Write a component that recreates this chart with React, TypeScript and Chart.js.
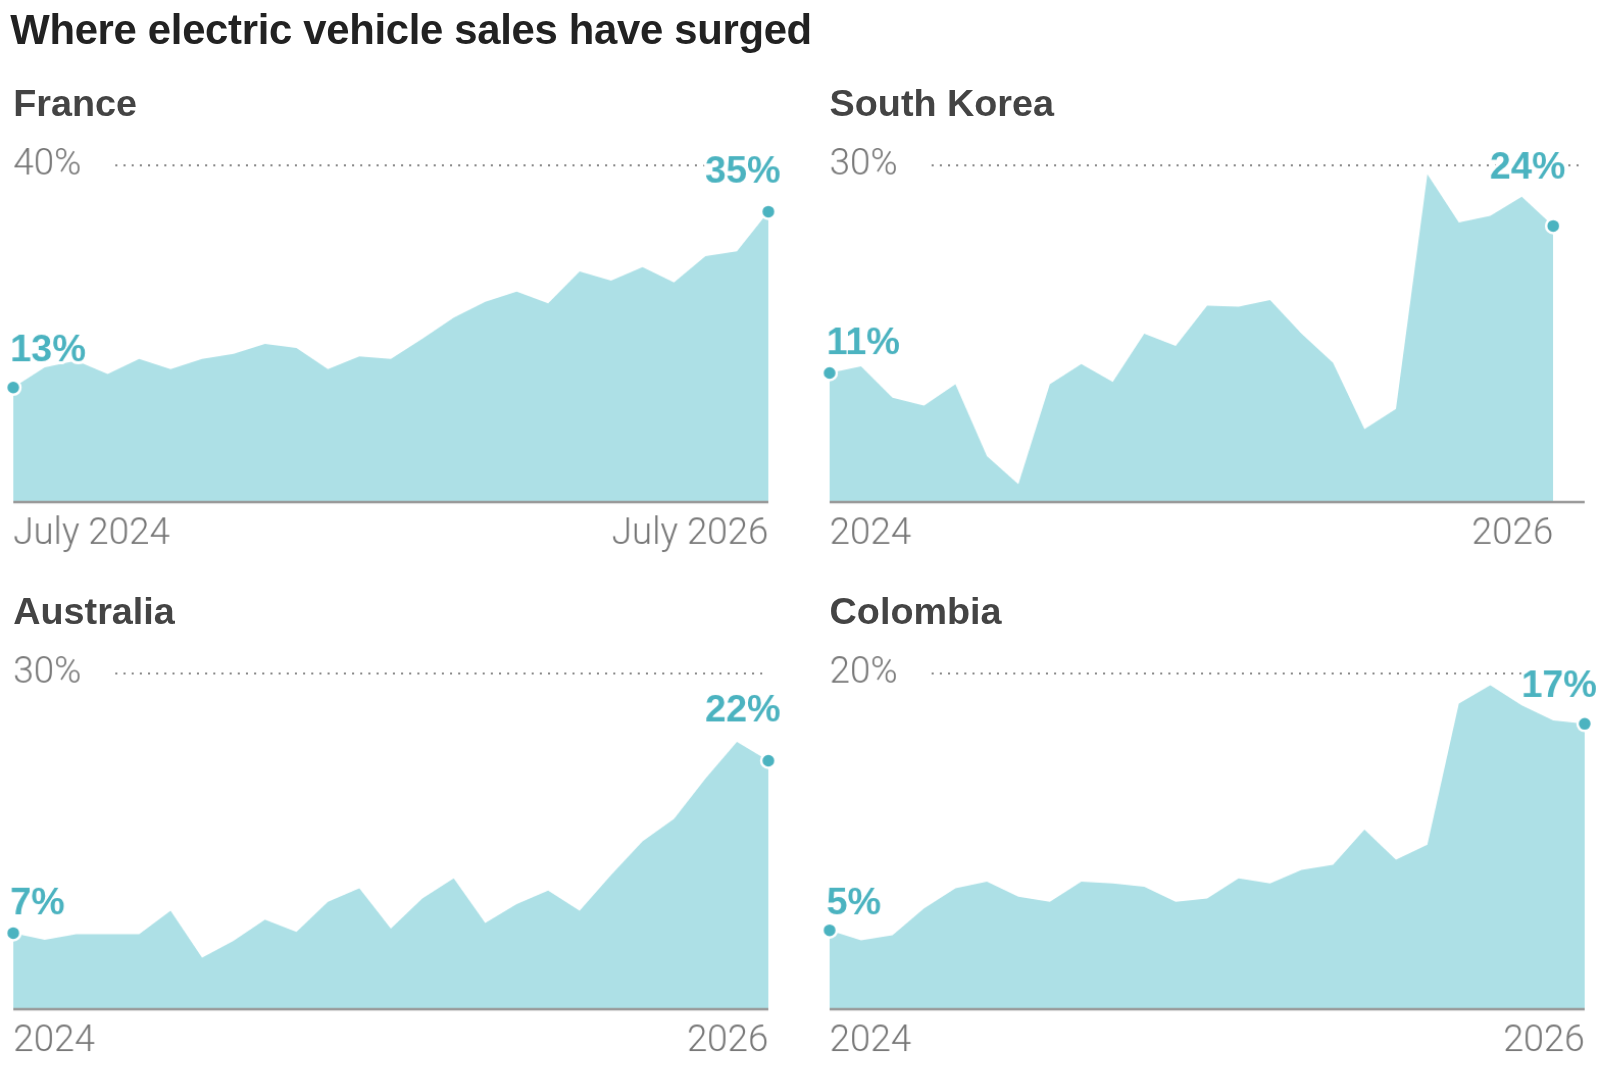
import React, { useEffect, useRef } from "react";
import { Chart, registerables } from "chart.js";
Chart.register(...registerables);

const monthLabels25 = Array.from({ length: 25 }, (_, i) => `m${i}`);

const franceValues = [13.6, 16, 16.8, 15.2, 17, 15.8, 17, 17.6, 18.8, 18.3, 15.8, 17.3, 17, 19.4, 21.9, 23.8, 25, 23.6, 27.4, 26.3, 27.9, 26.1, 29.2, 29.8, 34.5];
const koreaValues = [11.5, 12.1, 9.3, 8.6, 10.5, 4.1, 1.6, 10.5, 12.3, 10.7, 15, 13.9, 17.5, 17.4, 18, 15, 12.4, 6.5, 8.3, 29.2, 24.9, 25.5, 27.2, 24.6, null];
const australiaValues = [6.8, 6.2, 6.7, 6.7, 6.7, 8.8, 4.6, 6.1, 8.0, 6.9, 9.6, 10.8, 7.2, 9.9, 11.7, 7.7, 9.4, 10.6, 8.8, 12, 15, 17, 20.6, 23.9, 22.2];
const colombiaValues = [4.7, 4.1, 4.4, 6, 7.2, 7.6, 6.7, 6.4, 7.6, 7.5, 7.3, 6.4, 6.6, 7.8, 7.5, 8.3, 8.6, 10.7, 8.9, 9.8, 18.2, 19.3, 18.1, 17.2, 17];

const panels = [
  { name: "France", values: franceValues, max: 40, start: "13%", end: "35%", xl: "July 2024", xr: "July 2026", left: 0, top: 120, endOff: 20, startOff: 30 },
  { name: "South Korea", values: koreaValues, max: 30, start: "11%", end: "24%", xl: "2024", xr: "2026", left: 800, top: 120, endOff: 38, startOff: 22 },
  { name: "Australia", values: australiaValues, max: 30, start: "7%", end: "22%", xl: "2024", xr: "2026", left: 0, top: 618, endOff: 30, startOff: 22 },
  { name: "Colombia", values: colombiaValues, max: 20, start: "5%", end: "17%", xl: "2024", xr: "2026", left: 800, top: 618, endOff: 18, startOff: 19 },
];

const TEAL = "#4bb3c0";
const FILL = "#ade0e6";

function Panel({ p }: { p: any }) {
  const ref = useRef<HTMLCanvasElement>(null);
  useEffect(() => {
    const values = p.values;
    const plugin = {
      id: "deco",
      afterDatasetsDraw(chart: any) {
        const ctx = chart.ctx;
        const x = chart.scales.x, y = chart.scales.y;
        const ca = chart.chartArea;
        ctx.save();
        const gy = y.getPixelForValue(p.max);
        ctx.strokeStyle = "#888";
        ctx.lineWidth = 2;
        ctx.setLineDash([2, 6]);
        ctx.beginPath();
        ctx.moveTo(ca.left + 100, gy);
        ctx.lineTo(ca.right, gy);
        ctx.stroke();
        ctx.setLineDash([]);
        ctx.font = "300 36px Roboto";
        ctx.fillStyle = "#777";
        ctx.textBaseline = "middle";
        ctx.textAlign = "left";
        ctx.fillText(p.max + "%", ca.left, gy);
        const by = y.getPixelForValue(0);
        ctx.strokeStyle = "#999";
        ctx.lineWidth = 2.5;
        ctx.beginPath();
        ctx.moveTo(ca.left, by);
        ctx.lineTo(ca.right, by);
        ctx.stroke();
        let lastIdx = values.length - 1;
        while (values[lastIdx] == null) lastIdx--;
        ctx.fillText(p.xl, ca.left, by + 32);
        ctx.textAlign = "right";
        ctx.fillText(p.xr, x.getPixelForValue(lastIdx), by + 32);
        const sx = x.getPixelForValue(0), sy = y.getPixelForValue(values[0]);
        const ex = x.getPixelForValue(lastIdx), ey = y.getPixelForValue(values[lastIdx]);
        ctx.font = "bold 37px 'Liberation Sans'";
        ctx.lineJoin = "round";
        ctx.lineWidth = 6;
        ctx.strokeStyle = "#fff";
        ctx.fillStyle = TEAL;
        ctx.textBaseline = "bottom";
        ctx.textAlign = "left";
        ctx.strokeText(p.start, sx - 3, sy - p.startOff + 12);
        ctx.fillText(p.start, sx - 3, sy - p.startOff + 12);
        ctx.textAlign = "right";
        ctx.strokeText(p.end, ex + 12, ey - p.endOff);
        ctx.fillText(p.end, ex + 12, ey - p.endOff);
        for (const [px, py] of [[sx, sy], [ex, ey]]) {
          ctx.beginPath();
          ctx.arc(px, py, 7, 0, Math.PI * 2);
          ctx.fillStyle = TEAL;
          ctx.fill();
          ctx.lineWidth = 2.5;
          ctx.strokeStyle = "#fff";
          ctx.stroke();
        }
        ctx.restore();
      },
    };
    const chart = new Chart(ref.current!, {
      type: "line",
      data: {
        labels: monthLabels25,
        datasets: [{ data: values, fill: "origin", backgroundColor: FILL, borderWidth: 0, pointRadius: 0, tension: 0, spanGaps: false }],
      },
      options: {
        animation: false,
        responsive: false,
        layout: { padding: { left: 13, right: 47, top: 42, bottom: p.top === 120 ? 88 : 89 } },
        plugins: { legend: { display: false }, tooltip: { enabled: false } },
        scales: {
          x: { display: false, offset: false },
          y: { display: false, min: 0, max: p.max },
        },
      },
      plugins: [plugin],
    });
    return () => chart.destroy();
  }, []);
  return (
    <>
      <div style={{ position: "absolute", left: p.left + 13, top: p.top - 40, font: "bold 37px 'Liberation Sans'", color: "#444", lineHeight: "44px" }}>{p.name}</div>
      <canvas ref={ref} width={800} height={460} style={{ position: "absolute", left: p.left, top: p.top, width: 800, height: 460 }} />
    </>
  );
}

export default function App() {
  useEffect(() => { document.body.style.margin = "0"; }, []);
  return (
    <div style={{ position: "relative", width: 1600, height: 1066, background: "#fff", overflow: "hidden" }}>
      <div style={{ position: "absolute", left: 0, top: 0, width: 1568, height: 1045, transform: "scale(1.0204)", transformOrigin: "0 0" }}>
        <div style={{ position: "absolute", left: 10, top: 5, font: "bold 41px 'Liberation Sans'", color: "#222", lineHeight: "48px", letterSpacing: "-0.3px" }}>
          Where electric vehicle sales have surged
        </div>
        {panels.map((p) => <Panel key={p.name} p={p} />)}
      </div>
    </div>
  );
}
